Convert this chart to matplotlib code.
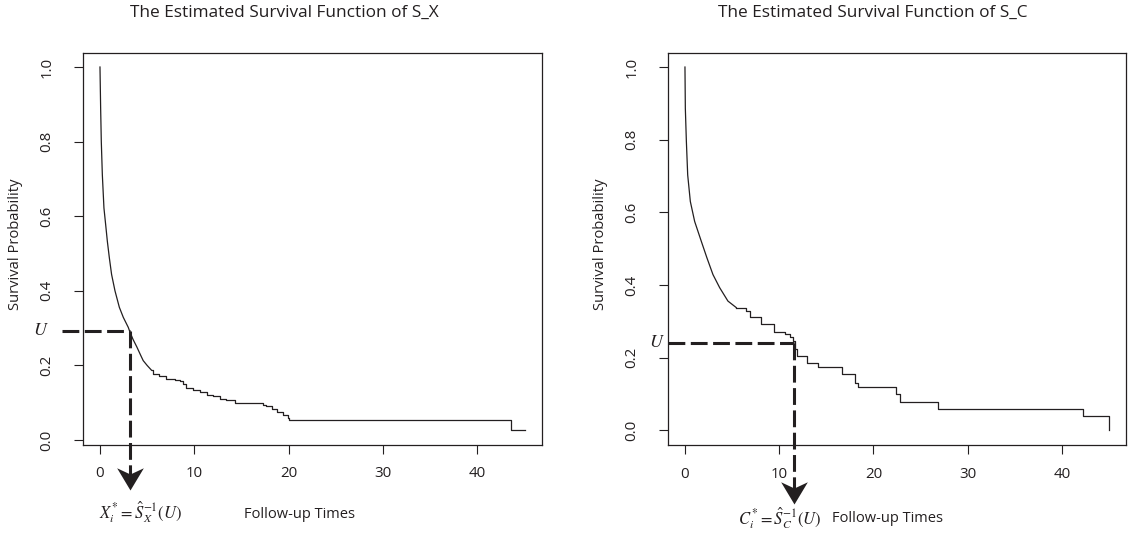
import numpy as np
import matplotlib
matplotlib.use("Agg")
import matplotlib.pyplot as plt
from matplotlib.path import Path

# ---------------- data ----------------
# S_X: dense early part (many tiny steps, read as a smooth trace) + visible steps later
smooth_t_x = [0.0, 0.07, 0.14, 0.25, 0.42, 0.6, 0.78, 0.99, 1.23, 1.59, 2.05, 2.47,
              3.0, 3.17, 3.5, 3.9, 4.3, 4.58, 5.0, 5.47]
smooth_s_x = [1.0, 0.89, 0.80, 0.711, 0.622, 0.578, 0.533, 0.489, 0.444, 0.40, 0.356,
              0.329, 0.302, 0.29, 0.27, 0.25, 0.228, 0.213, 0.2, 0.187]
step_t_x = [5.47, 5.6, 6.3, 7.05, 8.0, 8.47, 8.8, 9.17, 9.9, 10.6, 11.3, 12.0, 12.7,
            13.4, 14.3, 17.3, 17.6, 18.2, 18.8, 19.4, 19.9, 20.0, 43.6, 45.0]
step_s_x = [0.187, 0.178, 0.172, 0.165, 0.162, 0.158, 0.15, 0.14, 0.135, 0.129, 0.122,
            0.117, 0.11, 0.107, 0.098, 0.094, 0.09, 0.084, 0.076, 0.068, 0.06, 0.0525,
            0.027, 0.027]

# S_C
smooth_t_c = [0.0, 0.04, 0.15, 0.29, 0.57, 1.03, 1.74, 2.33, 2.97, 3.68, 4.56, 5.45]
smooth_s_c = [1.0, 0.886, 0.795, 0.703, 0.63, 0.575, 0.52, 0.475, 0.429, 0.393, 0.356,
              0.338]
step_t_c = [5.45, 6.5, 6.86, 8.1, 9.5, 10.6, 11.1, 11.5, 11.7, 11.9, 12.9, 14.07, 16.7,
            18.0, 18.4, 22.35, 22.8, 26.9, 42.2, 45.0]
step_s_c = [0.338, 0.329, 0.312, 0.292, 0.272, 0.266, 0.258, 0.247, 0.225, 0.205, 0.187,
            0.175, 0.155, 0.13, 0.119, 0.099, 0.079, 0.058, 0.039, 0.0]

x_ticks = [0, 10, 20, 30, 40]
y_ticks = [0.0, 0.2, 0.4, 0.6, 0.8, 1.0]
y_ticklabels = ["0.0", "0.2", "0.4", "0.6", "0.8", "1.0"]

titles = ["The Estimated Survival Function of S_X", "The Estimated Survival Function of S_C"]
xlabel = "Follow-up Times"
ylabel = "Survival Probability"

# annotation values (U and inverse)
u_vals = [0.293, 0.24]
inv_vals = [3.17, 11.6]
arrow_tips = [-0.133, -0.203]
hstarts = [-4.05, -1.8]
formulas = [r"$X_i^{*}=\hat{S}_X^{-1}(U)$", r"$C_i^{*}=\hat{S}_C^{-1}(U)$"]

# ---------------- style ----------------
W, H = 1128, 533
DPI = 100
INK = "#231f20"
plt.rcParams["font.family"] = ["Open Sans", "DejaVu Sans"]
plt.rcParams["mathtext.fontset"] = "stix"
FS = 10.8

fig = plt.figure(figsize=(W / DPI, H / DPI), dpi=DPI)

def fx(px):
    return px / W

def fy(py):
    return 1 - py / H

axes_px = [(83, 52.5, 541.5, 444.5), (668, 52.5, 1126, 445)]
title_px = [(284, 13), (873, 13)]
xlabel_px = [(300, 514), (887, 518)]
ylabel_px = [(16, 244), (601, 244)]
upos_px = [(41, 330), (657, 342)]
form_px = [(140, 512), (780, 518)]

star = Path([(0, 0), (-0.6, 1.0), (0, 0.72), (0.6, 1.0), (0, 0)],
            [Path.MOVETO, Path.LINETO, Path.LINETO, Path.LINETO, Path.CLOSEPOLY])

series = [(smooth_t_x, smooth_s_x, step_t_x, step_s_x),
          (smooth_t_c, smooth_s_c, step_t_c, step_s_c)]

for i in range(2):
    l, t, r, b = axes_px[i]
    ax = fig.add_axes([fx(l), fy(b), fx(r - l), (b - t) / H])
    st, ss, kt, ks = series[i]
    ax.plot(st, ss, color=INK, lw=0.9)
    ax.step(kt, ks, where="post", color=INK, lw=0.9)
    allt = st + kt
    alls = ss + ks
    # R-style 4% padding
    xr = max(allt) - min(allt)
    ax.set_xlim(min(allt) - 0.04 * xr, max(allt) + 0.04 * xr)
    yr = max(alls) - min(alls)
    ax.set_ylim(min(alls) - 0.04 * yr, max(alls) + 0.04 * yr)
    ax.set_xticks(x_ticks)
    ax.set_xticklabels([str(v) for v in x_ticks], fontsize=FS, color=INK)
    ax.set_yticks(y_ticks)
    ax.set_yticklabels(y_ticklabels, fontsize=FS, color=INK, rotation=90, va="center")
    ax.tick_params(axis="both", length=6.5, width=0.8, color=INK, direction="out")
    ax.tick_params(axis="x", pad=9)
    ax.tick_params(axis="y", pad=14)
    for sp in ax.spines.values():
        sp.set_color(INK)
        sp.set_linewidth(0.9)

    u = u_vals[i]
    xv = inv_vals[i]
    ls = (0, (5.5, 1.8))
    ax.plot([hstarts[i], xv], [u, u], color=INK, lw=2.2, ls=ls, clip_on=False,
            dash_capstyle="butt")
    ax.plot([xv, xv], [u, arrow_tips[i] + 0.04], color=INK, lw=2.2, ls=ls, clip_on=False,
            dash_capstyle="butt")
    ax.plot([xv], [arrow_tips[i]], marker=star, markersize=32, color=INK,
            markeredgewidth=0, clip_on=False)

    fig.text(fx(title_px[i][0]), fy(title_px[i][1]), titles[i], ha="center", va="center",
             fontsize=12.4, color=INK)
    fig.text(fx(xlabel_px[i][0]), fy(xlabel_px[i][1]), xlabel, ha="center", va="center",
             fontsize=10.5, color=INK)
    fig.text(fx(ylabel_px[i][0]), fy(ylabel_px[i][1]), ylabel, ha="center", va="center",
             rotation=90, fontsize=10.6, color=INK)
    fig.text(fx(upos_px[i][0]), fy(upos_px[i][1]), r"$U$", ha="center", va="center",
             fontsize=13, color=INK)
    fig.text(fx(form_px[i][0]), fy(form_px[i][1]), formulas[i], ha="center", va="center",
             fontsize=12, color=INK)

fig.savefig("out.png", dpi=DPI)
